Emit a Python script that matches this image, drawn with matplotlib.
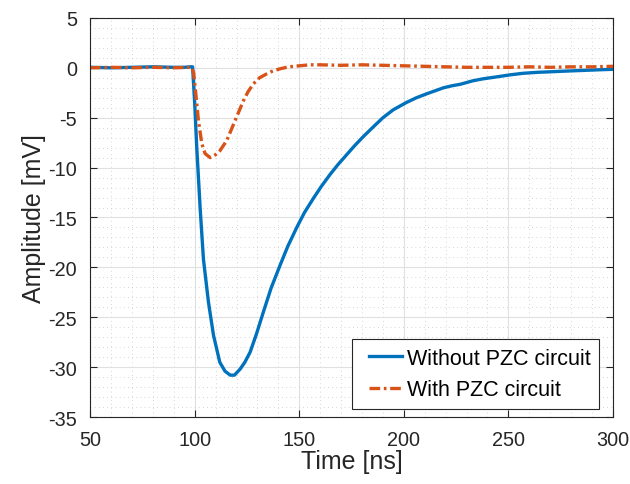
import numpy as np
import matplotlib
matplotlib.use("Agg")
import matplotlib.pyplot as plt
from matplotlib.ticker import MultipleLocator
from matplotlib.legend_handler import HandlerLine2D

plt.rcParams['font.family'] = ['Liberation Sans', 'DejaVu Sans']
plt.rcParams['axes.unicode_minus'] = False

# signal without PZC circuit (time in ns, amplitude in mV)
t_without = [50, 60, 70, 80, 90, 95, 98, 99, 100, 101, 102.6, 104.2, 106.6, 109, 112, 114.5,
             117, 119, 121.7, 124, 126.5, 129.5, 132.8, 136.5, 140.8, 144.5, 148.8, 152.5,
             156.7, 160.5, 164.7, 168.5, 172.7, 176.5, 180.6, 185, 190, 195, 201, 206, 211,
             215, 219, 223, 227, 233, 238, 243, 251, 257, 264, 270, 275, 281, 287, 293, 300]
amp_without = [0.05, 0.0, 0.05, 0.1, 0.05, 0.05, 0.1, 0.1, -3.5, -8.0, -14.0, -19.2, -23.5,
               -26.8, -29.5, -30.4, -30.8, -30.8, -30.2, -29.5, -28.5, -26.7, -24.5, -22.1,
               -19.8, -17.9, -16.0, -14.5, -13.1, -11.9, -10.7, -9.7, -8.7, -7.8, -6.9, -6.0,
               -5.0, -4.2, -3.5, -3.0, -2.6, -2.3, -2.0, -1.8, -1.65, -1.3, -1.1, -0.95, -0.7,
               -0.55, -0.45, -0.4, -0.35, -0.3, -0.25, -0.2, -0.15]

# signal with PZC circuit
t_with = [50, 60, 70, 80, 90, 98.5, 99.5, 100.5, 101.8, 103.4, 105, 107.4, 110, 112.1, 115.3,
          117.5, 119.3, 121.5, 123.3, 125.5, 128.1, 131, 134.5, 137.5, 140.8, 145, 150, 155,
          160, 170, 180, 190, 200, 210, 220, 230, 240, 250, 260, 270, 280, 290, 300]
amp_with = [0.0, 0.05, 0.0, 0.05, 0.0, 0.05, -0.5, -2.5, -5.3, -7.6, -8.6, -9.0, -8.7, -8.3,
            -7.3, -6.2, -5.3, -4.2, -3.3, -2.4, -1.6, -1.0, -0.6, -0.3, -0.1, 0.1, 0.2, 0.3,
            0.3, 0.25, 0.3, 0.25, 0.2, 0.15, 0.1, 0.05, 0.05, 0.05, 0.1, 0.05, 0.1, 0.1, 0.15]


class ShiftedLine(HandlerLine2D):
    # leaves a little empty room left of the legend line, like matlab does
    def create_artists(self, legend, orig_handle, xdescent, ydescent, width, height,
                       fontsize, trans):
        shift = 6
        return super().create_artists(legend, orig_handle, xdescent - shift, ydescent,
                                      width - shift, height, fontsize, trans)


fig = plt.figure(figsize=(6.3, 4.85), dpi=100)
ax = fig.add_axes([0.143, 0.138, 0.830, 0.823])

ax.plot(t_without, amp_without, color='#0072BD', lw=2.4, label='Without PZC circuit')
ax.plot(t_with, amp_with, color='#D95319', lw=2.4, linestyle=(0, (3.2, 1.1, 0.8, 1.1)),
        label='With PZC circuit')

ax.set_xlim(50, 300)
ax.set_ylim(-35, 5)
ax.xaxis.set_major_locator(MultipleLocator(50))
ax.xaxis.set_minor_locator(MultipleLocator(10))
ax.yaxis.set_major_locator(MultipleLocator(5))
ax.yaxis.set_minor_locator(MultipleLocator(1))

ax.grid(which='major', color='#e0e0e0', lw=0.8)
ax.grid(which='minor', color='#c8c8c8', lw=0.6, linestyle=(0, (1, 4)))
ax.set_axisbelow(True)

for s in ax.spines.values():
    s.set_color('#262626')
    s.set_linewidth(0.8)
ax.tick_params(which='major', direction='in', top=True, right=True, length=5,
               colors='#262626', labelsize=14.3)
ax.tick_params(axis='x', which='major', pad=9)
ax.tick_params(axis='y', which='major', pad=9.5)
ax.tick_params(which='minor', length=0)

ax.set_xlabel('Time [ns]', fontsize=18, color='#262626', labelpad=0)
ax.set_ylabel('Amplitude [mV]', fontsize=18, color='#262626', labelpad=1.5)

leg = ax.legend(loc='lower right', bbox_to_anchor=(0.973, 0.02), fontsize=15.5,
                fancybox=False, framealpha=1, edgecolor='#262626', handlelength=1.95,
                handletextpad=0.2, borderaxespad=0, borderpad=0.4, labelspacing=0.5,
                handler_map={plt.Line2D: ShiftedLine()})
leg.get_frame().set_linewidth(0.8)

fig.savefig('out.png', dpi=100)
